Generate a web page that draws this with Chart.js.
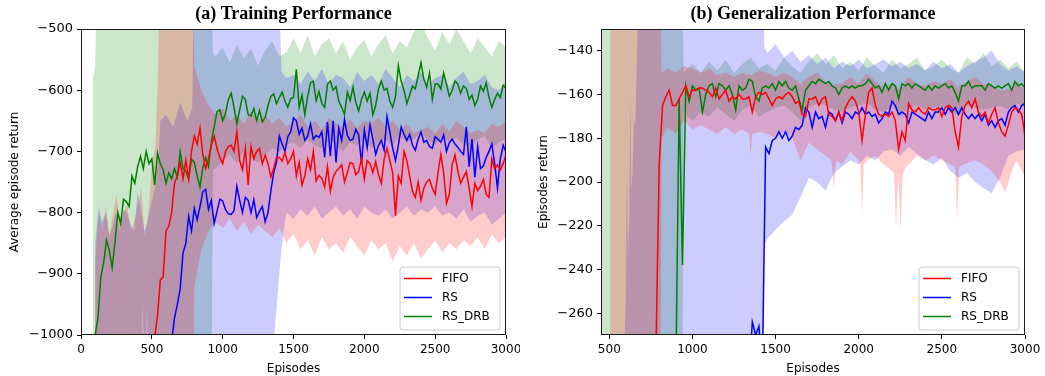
<!DOCTYPE html>
<html><head><meta charset="utf-8">
<script src="https://cdn.jsdelivr.net/npm/chart.js@4.4.1/dist/chart.umd.min.js"></script>
<style>
html,body{margin:0;padding:0;background:#fff;}
#wrap{position:relative;width:1045px;height:376px;overflow:hidden;}
.c{position:absolute;top:0;height:376px;}
</style></head><body>
<div id="wrap">
<div class="c" style="left:0;width:520px"><canvas id="ca"></canvas></div>
<div class="c" style="left:520px;width:525px"><canvas id="cb"></canvas></div>
</div>
<script>
// ---------------- DATA ----------------
const SERIES = ['FIFO', 'RS', 'RS_DRB'];
const TITLE_A = '(a) Training Performance';
const TITLE_B = '(b) Generalization Performance';
const XLABEL = 'Episodes';
const YLABEL_A = 'Average episode return';
const YLABEL_B = 'Episodes return';
const X_TICKS_A = [0, 500, 1000, 1500, 2000, 2500, 3000];
const Y_TICKS_A = [-1000, -900, -800, -700, -600, -500];
const X_TICKS_B = [500, 1000, 1500, 2000, 2500, 3000];
const Y_TICKS_B = [-260, -240, -220, -200, -180, -160, -140];

// episodes of the (a) curves
const EP_A = [100,120,140,160,180,200,220,240,260,280,
300,320,340,360,380,400,420,440,460,480,
500,520,540,560,580,600,620,640,660,680,
700,720,740,760,780,800,820,840,860,880,
900,920,940,960,980,1000,1020,1040,1060,1080,
1100,1120,1140,1160,1180,1200,1220,1240,1260,1280,
1300,1320,1340,1360,1380,1400,1420,1440,1460,1480,
1500,1520,1540,1560,1580,1600,1620,1640,1660,1680,
1700,1720,1740,1760,1780,1800,1820,1840,1860,1880,
1900,1920,1940,1960,1980,2000,2020,2040,2060,2080,
2100,2120,2140,2160,2180,2200,2220,2240,2260,2280,
2300,2320,2340,2360,2380,2400,2420,2440,2460,2480,
2500,2520,2540,2560,2580,2600,2620,2640,2660,2680,
2700,2720,2740,2760,2780,2800,2820,2840,2860,2880,
2900,2920,2940,2960,2980,3000];

// (a) FIFO, episodes 520..3000
const FIFO_A = [-1005,-968,-910,-905,-830,-822,-800,-752,-740,-718,
-745,-714,-745,-700,-675,-688,-662,-705,-728,-712,
-690,-675,-695,-710,-720,-700,-692,-690,-700,-668,
-715,-730,-695,-755,-692,-712,-700,-695,-720,-706,
-720,-742,-728,-710,-710,-716,-702,-720,-712,-700,
-740,-718,-755,-740,-712,-730,-700,-748,-739,-744,
-758,-725,-765,-742,-733,-728,-722,-750,-735,-718,
-720,-738,-733,-712,-745,-715,-720,-735,-717,-738,
-752,-712,-695,-715,-735,-805,-740,-752,-700,-715,
-740,-765,-775,-750,-780,-760,-750,-746,-760,-770,
-735,-705,-735,-785,-770,-722,-706,-732,-752,-742,
-733,-760,-790,-752,-764,-757,-746,-770,-775,-712,
-728,-722,-730,-720,-706];

// (a) RS, episodes 640..3000
const RS_A = [-1010,-972,-950,-925,-866,-850,-806,-830,-793,-812,
-790,-766,-762,-795,-780,-818,-798,-778,-781,-795,
-802,-803,-797,-757,-780,-800,-775,-780,-800,-779,
-808,-798,-790,-815,-800,-765,-735,-718,-675,-688,
-700,-676,-668,-645,-650,-672,-662,-682,-675,-655,
-680,-674,-677,-668,-710,-652,-708,-650,-718,-662,
-682,-648,-674,-682,-680,-664,-673,-720,-665,-694,
-656,-680,-705,-690,-682,-698,-643,-668,-695,-715,
-690,-660,-672,-682,-672,-690,-698,-680,-668,-685,
-682,-692,-695,-676,-680,-685,-673,-700,-686,-680,
-688,-693,-700,-705,-660,-725,-680,-742,-692,-728,
-724,-710,-700,-688,-720,-760,-712,-690,-701];

// (a) RS_DRB, episodes 100..3000
const DRB_A = [-1000,-972,-905,-882,-845,-862,-890,-848,-800,-818,
-778,-782,-790,-740,-752,-725,-708,-728,-700,-720,
-712,-755,-703,-720,-730,-752,-735,-745,-728,-742,
-700,-728,-732,-745,-713,-718,-740,-758,-726,-710,
-725,-685,-660,-635,-632,-650,-638,-615,-605,-628,
-655,-632,-610,-615,-640,-642,-630,-650,-633,-652,
-645,-625,-610,-606,-622,-612,-603,-618,-628,-614,
-612,-566,-628,-608,-640,-610,-588,-585,-617,-602,
-622,-628,-590,-585,-600,-594,-618,-628,-640,-603,
-617,-595,-620,-634,-615,-603,-618,-605,-640,-625,
-598,-585,-600,-597,-618,-628,-610,-560,-585,-600,
-622,-608,-593,-598,-576,-555,-582,-595,-572,-615,
-590,-590,-598,-572,-590,-610,-600,-585,-590,-605,
-593,-597,-615,-608,-625,-615,-593,-602,-588,-612,
-628,-615,-605,-612,-592,-597];

// (a) shaded ranges
const FIFO_A_BAND_EP = [100,125,150,175,200,225,250,275,300,325,350,375,400,425,450,475,500,525,540,555,790,800,850,900,950,
1000,1050,1100,1150,1200,1250,1300,1350,1400,1450,1500,1550,1600,1650,1700,1750,1800,1850,1900,1950,2000,2050,2100,2150,2200,2250,2300,2350,2400,2450,2500,2550,2600,2650,2700,2750,2800,2850,2900,2950,3000];
const FIFO_A_HI = [-880,-800,-830,-790,-835,-805,-770,-815,-800,-785,-830,-815,-790,-760,-840,-800,-725,-690,-600,-450,-450,-560,-600,-625,-640,
-630,-650,-640,-655,-635,-648,-640,-655,-645,-660,-650,-640,-660,-650,-665,-645,-655,-660,-648,-662,-650,-655,-645,-660,-650,-665,-655,-670,-665,-660,-670,-655,-668,-650,-660,-670,-665,-670,-655,-660,-650];
const FIFO_A_LO = [-1100,-1100,-1100,-1100,-1100,-1100,-1100,-1100,-1100,-1100,-1100,-1100,-1100,-1100,-1100,-1100,-1100,-1100,-1100,-1100,-1100,-920,-860,-830,-815,
-825,-810,-830,-815,-835,-820,-830,-840,-825,-850,-835,-860,-845,-870,-840,-860,-850,-865,-840,-855,-870,-845,-860,-850,-880,-855,-870,-850,-875,-860,-845,-865,-850,-860,-845,-855,-840,-860,-835,-850,-840];

const RS_A_BAND_EP = [100,125,150,175,200,225,250,275,300,325,350,375,400,425,450,475,500,525,550,560,600,650,700,750,785,795,1350,1365,1400,1415,1430,1450,
1500,1550,1600,1650,1700,1750,1800,1850,1900,1950,2000,2050,2100,2150,2200,2250,2300,2350,2400,2450,2500,2550,2600,2650,2700,2750,2800,2850,2900,2950,3000];
const RS_A_HI = [-850,-790,-815,-800,-840,-820,-800,-830,-795,-800,-820,-830,-765,-800,-830,-810,-780,-760,-700,-650,-640,-660,-620,-650,-630,-450,-450,-450,-450,-570,-575,-580,
-575,-590,-570,-585,-565,-590,-575,-580,-595,-570,-585,-575,-590,-565,-580,-595,-575,-585,-570,-590,-580,-575,-595,-580,-570,-590,-585,-575,-595,-600,-585];
const RS_A_LO = [-1100,-1100,-1100,-1100,-1100,-1100,-1100,-1100,-1100,-1100,-1100,-1100,-1100,-1100,-1100,-1100,-1100,-1100,-1100,-1100,-1100,-1100,-1100,-1100,-1100,-1100,-1100,-1000,-900,-860,-830,-800,
-810,-795,-805,-790,-810,-800,-790,-805,-795,-810,-790,-800,-805,-795,-810,-800,-790,-805,-795,-800,-790,-805,-800,-810,-795,-815,-805,-800,-820,-810,-800];

const DRB_A_BAND_EP = [85,100,110,420,435,450,465,480,920,932,950,
1000,1050,1100,1150,1200,1250,1300,1350,1400,1450,1500,1550,1600,1650,1700,1750,1800,1850,1900,1950,2000,2050,2100,2150,2200,2250,2300,2350,2400,2450,2500,2550,2600,2650,2700,2750,2800,2850,2900,2950,3000];
const DRB_A_HI = [-580,-560,-450,-450,-450,-450,-450,-450,-450,-540,-545,
-530,-555,-525,-548,-532,-560,-535,-520,-545,-538,-515,-540,-510,-545,-525,-515,-540,-520,-550,-530,-518,-545,-525,-510,-540,-520,-530,-505,-490,-515,-535,-505,-525,-500,-520,-540,-515,-530,-545,-520,-530];
const DRB_A_LO = [-1100,-1100,-1100,-1100,-945,-1050,-955,-1100,-1100,-730,-728,
-715,-705,-720,-700,-712,-718,-705,-695,-700,-690,-685,-695,-680,-690,-695,-680,-690,-700,-685,-690,-680,-695,-685,-680,-690,-675,-685,-680,-670,-680,-690,-675,-685,-678,-688,-692,-680,-675,-695,-685,-680];

// episodes of the (b) curves
const EP_B = [760,780,800,820,840,860,880,900,920,940,
960,980,1000,1020,1040,1060,1080,1100,1120,1140,
1160,1180,1200,1220,1240,1260,1280,1300,1320,1340,
1360,1380,1400,1420,1440,1460,1480,1500,1520,1540,
1560,1580,1600,1620,1640,1660,1680,1700,1720,1740,
1760,1780,1800,1820,1840,1860,1880,1900,1920,1940,
1960,1980,2000,2020,2040,2060,2080,2100,2120,2140,
2160,2180,2200,2220,2240,2260,2280,2300,2320,2340,
2360,2380,2400,2420,2440,2460,2480,2500,2520,2540,
2560,2580,2600,2620,2640,2660,2680,2700,2720,2740,
2760,2780,2800,2820,2840,2860,2880,2900,2920,2940,
2960,2980,3000];

// (b) FIFO, episodes 780..3000
const FIFO_B = [-280,-192,-165,-161,-158,-165,-165,-162,-159,-156,
-161,-158,-158,-157,-157,-158,-159,-161,-157,-162,
-160,-158,-163,-161,-162,-160,-162,-162,-161,-168,
-161,-159,-160,-159,-162,-165,-162,-161,-162,-160,
-159,-161,-164,-163,-169,-170,-162,-162,-161,-165,
-162,-161,-169,-170,-172,-168,-172,-166,-163,-161,
-163,-168,-181,-169,-159,-157,-165,-169,-170,-169,
-170,-168,-172,-185,-177,-181,-164,-167,-168,-166,
-168,-169,-166,-167,-167,-166,-170,-166,-165,-166,
-177,-184,-170,-165,-163,-166,-162,-168,-170,-168,
-173,-169,-166,-173,-177,-179,-174,-168,-166,-167,
-169,-179];

// (b) RS, episodes 1340..3000
const RS_B = [-290,-264,-270,-266,-290,-184,-187,-181,-180,-177,
-180,-177,-181,-179,-175,-176,-174,-166,-168,-175,
-168,-171,-170,-175,-168,-169,-172,-168,-173,-168,
-169,-171,-168,-169,-166,-169,-168,-170,-169,-173,
-171,-168,-169,-163,-165,-169,-168,-169,-173,-168,
-169,-170,-171,-172,-168,-171,-168,-168,-166,-169,
-166,-168,-166,-169,-166,-169,-171,-169,-171,-169,
-172,-169,-174,-172,-175,-172,-171,-174,-168,-166,
-165,-168,-165,-164];

// (b) RS_DRB, episodes 900..3000
const DRB_B = [-290,-162,-238,-156,-163,-156,-158,-157,-168,-160,
-156,-155,-161,-155,-156,-158,-156,-160,-167,-156,
-158,-157,-153,-154,-161,-163,-157,-156,-157,-155,
-158,-154,-156,-154,-157,-158,-156,-162,-167,-158,
-156,-154,-155,-153,-154,-155,-154,-156,-157,-160,
-157,-156,-157,-156,-157,-156,-156,-155,-153,-155,
-157,-156,-159,-155,-158,-155,-156,-162,-155,-156,
-155,-157,-155,-156,-157,-158,-156,-158,-156,-157,
-156,-155,-157,-156,-159,-163,-156,-156,-154,-157,
-156,-156,-156,-158,-155,-156,-157,-156,-157,-156,
-155,-158,-154,-156,-155,-157];

// (b) shaded ranges
const FIFO_B_BAND_EP = [505,808,814,850,900,950,
1000,1050,1100,1150,1200,1250,1300,1340,1350,1360,1400,1450,1500,1550,1600,1650,1700,1750,1800,1835,1850,1865,1900,1950,2000,
2010,2020,2030,2050,2100,2150,2200,2212,2224,2238,2252,2264,2276,2300,2350,2400,2450,2500,2550,2580,2592,2604,2630,2700,2750,2800,2850,2880,2920,2950,3000];
const FIFO_B_HI = [-100,-100,-150,-148,-150,-147,
-148,-150,-148,-151,-150,-152,-150,-151,-151,-151,-149,-150,-152,-150,-152,-155,-152,-150,-154,-155,-156,-155,-155,-152,-155,
-154,-153,-152,-150,-154,-157,-155,-155,-156,-157,-158,-156,-154,-152,-155,-156,-154,-155,-153,-155,-157,-156,-155,-152,-155,-156,-158,-158,-157,-154,-158];
const FIFO_B_LO = [-300,-300,-180,-175,-178,-172,
-176,-174,-176,-178,-175,-178,-176,-178,-188,-178,-177,-178,-180,-177,-180,-190,-182,-185,-188,-190,-203,-190,-192,-186,-190,
-192,-216,-192,-190,-188,-192,-195,-196,-221,-196,-222,-197,-194,-192,-188,-190,-188,-190,-192,-193,-218,-193,-192,-190,-192,-195,-200,-205,-195,-190,-198];

const RS_B_BAND_EP = [590,600,606,612,620,626,632,640,648,656,664,672,680,1426,1432,1450,
1500,1550,1600,1650,1700,1750,1800,1850,1900,1950,2000,2050,2100,2150,2200,2250,2300,2350,2400,2450,2500,2550,2600,2650,2700,2750,2800,2850,2900,2950,3000];
const RS_B_HI = [-275,-250,-190,-235,-215,-160,-205,-195,-170,-175,-150,-125,-100,-100,-138,-141,
-137,-143,-140,-145,-142,-146,-143,-148,-145,-147,-144,-148,-146,-144,-147,-145,-148,-146,-149,-145,-148,-146,-150,-147,-145,-143,-140,-146,-149,-147,-150];
const RS_B_LO = [-300,-300,-300,-300,-300,-300,-300,-300,-300,-300,-300,-300,-300,-300,-229,-226,
-222,-218,-215,-207,-198,-200,-204,-196,-193,-190,-192,-188,-190,-186,-185,-188,-184,-187,-190,-192,-189,-195,-198,-196,-200,-203,-205,-198,-188,-186,-185];

const DRB_B_BAND_EP = [450,940,946,
1000,1050,1100,1150,1200,1250,1300,1350,1400,1450,1500,1550,1600,1650,1700,1750,1800,1850,1900,1950,2000,2050,2100,2150,2200,2250,2300,2350,2400,2450,2500,2550,2600,2650,2700,2750,2800,2850,2900,2950,3000];
const DRB_B_HI = [-100,-100,-150,
-146,-150,-145,-149,-144,-150,-146,-143,-148,-146,-149,-143,-147,-150,-145,-141,-146,-142,-148,-145,-149,-143,-147,-150,-144,-148,-146,-143,-149,-147,-144,-148,-150,-143,-146,-141,-147,-144,-148,-145,-150];
const DRB_B_LO = [-300,-300,-168,
-172,-168,-170,-166,-169,-172,-167,-165,-170,-168,-166,-165,-168,-172,-166,-164,-165,-167,-168,-166,-165,-164,-167,-168,-165,-170,-166,-165,-167,-166,-165,-167,-170,-165,-166,-167,-166,-165,-167,-164,-166];

// ---------------- STYLE ----------------
const LINE_COLORS = ['#ff0000', '#0000ff', '#008000'];
const FILL_COLORS = ['rgba(255,0,0,0.2)', 'rgba(0,0,255,0.2)', 'rgba(0,128,0,0.2)'];
const FONT = "'DejaVu Sans', sans-serif";

// ---------------- BUILD ----------------
function alignLine(ep, vals) {
  const off = ep.length - vals.length;
  if (off < 0) throw new Error('line longer than episodes');
  return vals.map((v, i) => ({x: ep[off + i], y: v}));
}
function bandPts(ep, vals, name) {
  if (ep.length !== vals.length) throw new Error('band length mismatch ' + name + ' ' + ep.length + ' vs ' + vals.length);
  return vals.map((v, i) => ({x: ep[i], y: v}));
}
function makeDatasets(bands, lines) {
  const ds = [];
  bands.forEach((b, k) => {
    ds.push({data: bandPts(b.ep, b.lo, b.name + ' lo'), borderWidth: 0, pointRadius: 0, fill: false,
      borderColor: 'rgba(0,0,0,0)', backgroundColor: FILL_COLORS[k], tension: 0});
    ds.push({data: bandPts(b.ep, b.hi, b.name + ' hi'), borderWidth: 0, pointRadius: 0, fill: '-1',
      borderColor: 'rgba(0,0,0,0)', backgroundColor: FILL_COLORS[k], tension: 0});
  });
  lines.forEach((l, k) => {
    ds.push({label: SERIES[k], data: l, borderColor: LINE_COLORS[k], borderWidth: 1.5, pointRadius: 0,
      fill: false, tension: 0});
  });
  return ds;
}

const framePlugin = {
  id: 'frame',
  afterDraw(chart) {
    const {ctx, chartArea: a} = chart;
    ctx.save();
    ctx.strokeStyle = '#1a1a1a';
    ctx.lineWidth = 1;
    const l = Math.round(a.left) + 0.5, t = Math.round(a.top) + 0.5;
    const r = Math.round(a.right) - 0.5, b = Math.round(a.bottom) - 0.5;
    ctx.strokeRect(l, t, r - l, b - t);
    ctx.restore();
  }
};

const legendPlugin = {
  id: 'boxLegend',
  afterDraw(chart) {
    const {ctx, chartArea: a} = chart;
    const w = 100, h = 63;
    const x0 = Math.round(a.right) - 6 - w, y0 = Math.round(a.bottom) - 5 - h;
    ctx.save();
    ctx.beginPath();
    const r = 3;
    ctx.moveTo(x0 + r, y0);
    ctx.lineTo(x0 + w - r, y0); ctx.arcTo(x0 + w, y0, x0 + w, y0 + r, r);
    ctx.lineTo(x0 + w, y0 + h - r); ctx.arcTo(x0 + w, y0 + h, x0 + w - r, y0 + h, r);
    ctx.lineTo(x0 + r, y0 + h); ctx.arcTo(x0, y0 + h, x0, y0 + h - r, r);
    ctx.lineTo(x0, y0 + r); ctx.arcTo(x0, y0, x0 + r, y0, r);
    ctx.closePath();
    ctx.fillStyle = 'rgba(255,255,255,0.8)';
    ctx.fill();
    ctx.strokeStyle = '#cccccc';
    ctx.lineWidth = 1;
    ctx.stroke();
    ctx.font = '12px ' + FONT;
    ctx.textBaseline = 'middle';
    ctx.textAlign = 'left';
    SERIES.forEach((name, i) => {
      const y = y0 + 11.5 + i * 19;
      ctx.strokeStyle = LINE_COLORS[i];
      ctx.lineWidth = 1.5;
      ctx.beginPath(); ctx.moveTo(x0 + 4, y); ctx.lineTo(x0 + 32, y); ctx.stroke();
      ctx.fillStyle = '#000';
      ctx.fillText(name, x0 + 42, y + 0.5);
    });
    ctx.restore();
  }
};

const fmt = v => String(v).replace('-', '\u2212');

function makeChart(id, cfg) {
  return new Chart(document.getElementById(id), {
    type: 'line',
    data: {datasets: cfg.datasets},
    options: {
      responsive: true, maintainAspectRatio: false, animation: false,
      layout: {padding: {left: 0, right: cfg.padRight, top: 0, bottom: 0}},
      plugins: {
        legend: {display: false}, tooltip: {enabled: false},
        filler: {drawTime: 'beforeDatasetsDraw', propagate: false},
        title: {display: true, text: cfg.title, fullSize: false, color: '#000',
          font: {family: "'Liberation Serif', 'Times New Roman', serif", size: 18, weight: 'bold', lineHeight: 1.2},
          padding: {top: 4, bottom: 3.4}}
      },
      scales: {
        x: {
          type: 'linear', min: cfg.xmin, max: cfg.xmax,
          afterBuildTicks: s => { s.ticks = cfg.xticks.map(v => ({value: v})); },
          afterFit: s => { s.height = 41; s.paddingLeft = 0; s.paddingRight = 0; },
          ticks: {color: '#000', font: {family: FONT, size: 12}, padding: 4, maxRotation: 0, autoSkip: false, callback: fmt},
          grid: {drawOnChartArea: false, drawTicks: true, tickLength: 4, color: '#000', lineWidth: 1},
          border: {display: false},
          title: {display: true, text: XLABEL, color: '#000', font: {family: FONT, size: 12, lineHeight: 1.2}, padding: {top: 0, bottom: 0}}
        },
        y: {
          type: 'linear', min: cfg.ymin, max: cfg.ymax,
          afterBuildTicks: s => { s.ticks = cfg.yticks.map(v => ({value: v})); },
          afterFit: s => { s.width = 81; s.paddingTop = 0; s.paddingBottom = 0; },
          ticks: {color: '#000', font: {family: FONT, size: 13}, padding: 4, autoSkip: false, callback: fmt},
          grid: {drawOnChartArea: false, drawTicks: true, tickLength: 4, color: '#000', lineWidth: 1},
          border: {display: false},
          title: {display: true, text: cfg.ylabel, color: '#000', font: {family: FONT, size: 12, lineHeight: 1.2}, padding: {top: cfg.yTitlePad, bottom: 0}}
        }
      }
    },
    plugins: [framePlugin, legendPlugin]
  });
}

Chart.defaults.font.family = FONT;

makeChart('ca', {
  title: TITLE_A, ylabel: YLABEL_A, yTitlePad: 8, padRight: 14,
  xmin: 0, xmax: 3000, ymin: -1000, ymax: -500, xticks: X_TICKS_A, yticks: Y_TICKS_A,
  datasets: makeDatasets([
    {name: 'FIFO_A', ep: FIFO_A_BAND_EP, lo: FIFO_A_LO, hi: FIFO_A_HI},
    {name: 'RS_A', ep: RS_A_BAND_EP, lo: RS_A_LO, hi: RS_A_HI},
    {name: 'DRB_A', ep: DRB_A_BAND_EP, lo: DRB_A_LO, hi: DRB_A_HI}
  ], [alignLine(EP_A, FIFO_A), alignLine(EP_A, RS_A), alignLine(EP_A, DRB_A)])
});

makeChart('cb', {
  title: TITLE_B, ylabel: YLABEL_B, yTitlePad: 17, padRight: 20,
  xmin: 450, xmax: 3000, ymin: -270, ymax: -130, xticks: X_TICKS_B, yticks: Y_TICKS_B,
  datasets: makeDatasets([
    {name: 'FIFO_B', ep: FIFO_B_BAND_EP, lo: FIFO_B_LO, hi: FIFO_B_HI},
    {name: 'RS_B', ep: RS_B_BAND_EP, lo: RS_B_LO, hi: RS_B_HI},
    {name: 'DRB_B', ep: DRB_B_BAND_EP, lo: DRB_B_LO, hi: DRB_B_HI}
  ], [alignLine(EP_B, FIFO_B), alignLine(EP_B, RS_B), alignLine(EP_B, DRB_B)])
});
</script>
</body></html>
